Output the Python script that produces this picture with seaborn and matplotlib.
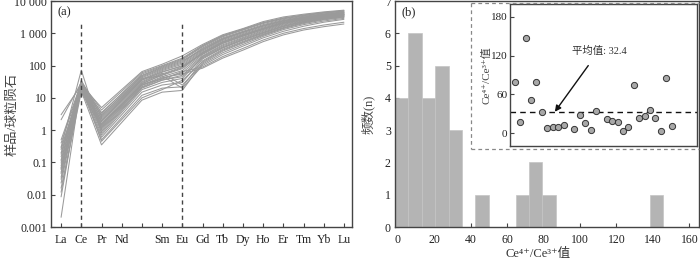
import numpy as np
import pandas as pd
import matplotlib
matplotlib.use("Agg")
import matplotlib.pyplot as plt
import seaborn as sns
from matplotlib.lines import Line2D

sns.set_style("ticks")
FAM = ['Liberation Serif', 'DejaVu Serif', 'Noto Sans CJK SC']
plt.rcParams['font.family'] = FAM
plt.rcParams['axes.unicode_minus'] = False

# ---------------- data ----------------
tick_labels = ["La", "Ce", "Pr", "Nd", "", "Sm", "Eu", "Gd", "Tb", "Dy", "Ho", "Er", "Tm", "Yb", "Lu"]
elements = ["La", "Ce", "Pr", "Nd", "Sm", "Eu", "Gd", "Tb", "Dy", "Ho", "Er", "Tm", "Yb", "Lu"]
element_pos = [0, 1, 2, 4, 5, 6, 7, 8, 9, 10, 11, 12, 13, 14]

ree = [
    [3.0, 25, 5.0, 65, 110, 200, 450, 900, 1400, 2300, 3200, 3900, 4600, 5200],
    [2.1, 30, 4.2, 60, 100, 170, 420, 850, 1350, 2150, 3000, 3700, 4400, 5000],
    [0.40, 28, 3.5, 50, 90, 150, 380, 780, 1250, 2000, 2800, 3500, 4200, 4800],
    [0.25, 22, 3.0, 45, 80, 130, 350, 720, 1150, 1850, 2650, 3350, 4000, 4600],
    [0.15, 35, 2.6, 42, 75, 120, 330, 680, 1100, 1750, 2500, 3200, 3850, 4400],
    [0.095, 26, 2.2, 38, 70, 110, 300, 640, 1050, 1650, 2400, 3050, 3700, 4300],
    [0.06, 20, 1.9, 35, 62, 100, 280, 600, 980, 1550, 2300, 2950, 3600, 4150],
    [0.035, 18, 1.6, 30, 55, 90, 260, 560, 920, 1450, 2200, 2850, 3500, 4000],
    [0.023, 24, 1.4, 28, 50, 80, 240, 520, 860, 1380, 2100, 2750, 3400, 3900],
    [0.0086, 29, 1.2, 25, 45, 70, 220, 480, 800, 1300, 2000, 2650, 3300, 3800],
    [0.002, 32, 1.0, 22, 40, 60, 200, 440, 740, 1220, 1900, 2550, 3200, 3700],
    [0.3, 72, 0.8, 20, 35, 50, 190, 410, 700, 1150, 1800, 2450, 3100, 3600],
    [0.12, 27, 0.7, 18, 30, 40, 180, 380, 660, 1080, 1700, 2350, 3000, 3500],
    [0.05, 22, 0.6, 15, 25, 30, 160, 350, 610, 1000, 1600, 2250, 2900, 3400],
    [0.2, 19, 0.5, 12, 20, 22, 140, 320, 560, 940, 1500, 2150, 2800, 3300],
    [0.08, 16, 0.35, 8.5, 15, 17, 120, 280, 500, 860, 1400, 2000, 2600, 3100],
    [0.03, 25, 1.8, 32, 58, 25, 110, 250, 450, 800, 1300, 1850, 2400, 2900],
    [0.012, 23, 2.4, 40, 48, 20, 100, 220, 400, 720, 1150, 1650, 2200, 2700],
    [0.5, 30, 1.5, 26, 38, 65, 90, 190, 340, 620, 1000, 1400, 1800, 2200],
    [0.18, 33, 1.1, 24, 42, 55, 83, 170, 300, 550, 890, 1260, 1600, 1940],
    [0.07, 21, 2.0, 36, 65, 95, 230, 500, 830, 1330, 2050, 2700, 3350, 3850],
    [0.045, 27, 2.8, 48, 85, 140, 310, 660, 1080, 1700, 2450, 3150, 3800, 4350],
    [0.28, 24, 0.9, 21, 36, 45, 170, 360, 630, 1040, 1650, 2300, 2950, 3450],
    [0.11, 31, 3.3, 55, 95, 160, 400, 820, 1300, 2100, 2900, 3600, 4300, 4900],
    [0.016, 15, 1.3, 27, 52, 85, 250, 540, 890, 1420, 2150, 2800, 3450, 3950],
    [0.065, 26, 0.45, 10, 18, 35, 130, 300, 530, 900, 1450, 2100, 2700, 3200],
]

y_ticks_a = [0.001, 0.01, 0.1, 1, 10, 100, 1000, 10000]
y_ticklabels_a = ["0.001", "0.01", "0.1", "1", "10", "100", "1 000", "10 000"]

# histogram (b)
bin_edges = [-1.5 + 7.35 * i for i in range(21)]
bin_counts = [4, 6, 4, 5, 3, 0, 1, 0, 0, 1, 2, 1, 0, 0, 0, 0, 0, 0, 0, 1]

# inset scatter
sample_no = [1, 2, 3, 4, 5, 6, 7, 8, 9, 10, 12, 13, 14, 15, 16,
             18, 19, 20, 21, 22, 23, 24, 25, 26, 27, 28, 29, 30]
ce_ratio = [79, 17, 148, 52, 79, 33, 8, 9, 10, 12, 6, 28, 16, 5, 34,
            22, 19, 17, 4, 10, 74, 23, 27, 36, 24, 4, 86, 11]
mean_value = 32.4

ratio_label = "Ce⁴⁺/Ce³⁺值"

# ---------------- figure ----------------
W, H = 700, 260
fig = plt.figure(figsize=(7, 2.6), dpi=100)

def fr(x0, y0, x1, y1):
    return [x0 / W, 1 - y1 / H, (x1 - x0) / W, (y1 - y0) / H]

spine_c = "#444444"
txt_c = "#222222"
fs = 8.5

# ----- panel (a)
axa = fig.add_axes(fr(51, 1, 352, 227))
rows = []
for i, r in enumerate(ree):
    for p, v in zip(element_pos, r):
        rows.append({"sample": i, "pos": p, "val": v})
df = pd.DataFrame(rows)
sns.lineplot(data=df, x="pos", y="val", units="sample", estimator=None,
             color="#9a9a9a", lw=0.75, ax=axa, legend=False)
axa.set_yscale("log")
axa.set_ylim(0.001, 10000)
axa.set_xlim(-0.5, 14.4)
axa.set_xticks(range(15))
axa.set_xticklabels(tick_labels)
axa.set_yticks(y_ticks_a)
axa.set_yticklabels(y_ticklabels_a)
axa.yaxis.set_minor_locator(matplotlib.ticker.NullLocator())
axa.set_xlabel("")
axa.set_ylabel("样品/球粒陨石", fontsize=9.5, color="#444444")
axa.yaxis.set_label_coords(-0.108, 0.5)
axa.plot([1, 1], [0.001, 2400], ls=(0, (3, 2.5)), color="#444444", lw=1.0)
axa.plot([6, 6], [0.001, 2100], ls=(0, (3, 2.5)), color="#444444", lw=1.0)
axa.text(0.02, 0.975, "(a)", transform=axa.transAxes, ha="left", va="top",
         fontsize=9, color=txt_c)

# ----- panel (b)
axb = fig.add_axes(fr(395, 1, 699, 227))
centers = [(bin_edges[i] + bin_edges[i + 1]) / 2 for i in range(len(bin_counts))]
sns.histplot(x=centers, weights=bin_counts, bins=bin_edges, ax=axb,
             color="#b4b4b4", edgecolor="#c4c4c4", linewidth=0.5, alpha=1.0)
axb.set_xlim(-1.5, 165.3)
axb.set_ylim(0, 7)
axb.set_xticks(range(0, 161, 20))
axb.set_yticks(range(0, 8))
axb.set_xlabel(ratio_label, fontsize=9, color="#333333")
axb.xaxis.set_label_coords(0.47, -0.092)
axb.set_ylabel("频数(n)", fontsize=9, color="#444444")
axb.yaxis.set_label_coords(-0.068, 0.5)
axb.text(0.02, 0.975, "(b)", transform=axb.transAxes, ha="left", va="top",
         fontsize=9, color=txt_c)

for ax in (axa, axb):
    for s in ax.spines.values():
        s.set_visible(True)
        s.set_color(spine_c)
        s.set_linewidth(1.0)
    ax.tick_params(direction="in", length=3, width=0.8, colors=spine_c,
                   labelsize=fs, labelcolor=txt_c, pad=3)
    ax.tick_params(axis="x", pad=5)

# dashed frame around inset
dash = dict(ls=(0, (3, 2.5)), color="#888888", lw=0.9, transform=fig.transFigure)
fig.add_artist(Line2D([471 / W, 471 / W], [1 - 3 / H, 1 - 149 / H], **dash))
fig.add_artist(Line2D([471 / W, 699 / W], [1 - 149 / H, 1 - 149 / H], **dash))
fig.add_artist(Line2D([471 / W, 699 / W], [1 - 3 / H, 1 - 3 / H], **dash))

# ----- inset
axi = fig.add_axes(fr(510, 4, 697, 146))
sns.scatterplot(x=sample_no, y=ce_ratio, ax=axi, s=20, color="#a8a8a8",
                edgecolor="#333333", linewidth=0.7, zorder=3)
axi.set_xlim(0.1, 34.7)
axi.set_ylim(-20, 200)
axi.set_xticks([])
axi.set_yticks([0, 60, 120, 180])
axi.axhline(mean_value, color="#111111", lw=1.0, ls=(0, (4, 3)), zorder=2)
axi.annotate("平均值: 32.4", xy=(8.4, 33), xytext=(16.6, 128),
             ha="center", va="center", fontsize=7.5, color="#333333",
             arrowprops=dict(arrowstyle="-|>", color="#111111", lw=1.0,
                             shrinkA=6, shrinkB=0, mutation_scale=9))
axi.set_ylabel(ratio_label, fontsize=8, color="#444444")
axi.yaxis.set_label_coords(-0.1, 0.5)
for s in axi.spines.values():
    s.set_visible(True)
    s.set_color(spine_c)
    s.set_linewidth(1.0)
axi.tick_params(direction="in", length=3, width=0.8, colors=spine_c,
                labelsize=8, labelcolor=txt_c, pad=2)
axi.set_facecolor("white")

fig.savefig("out.png", dpi=100)
